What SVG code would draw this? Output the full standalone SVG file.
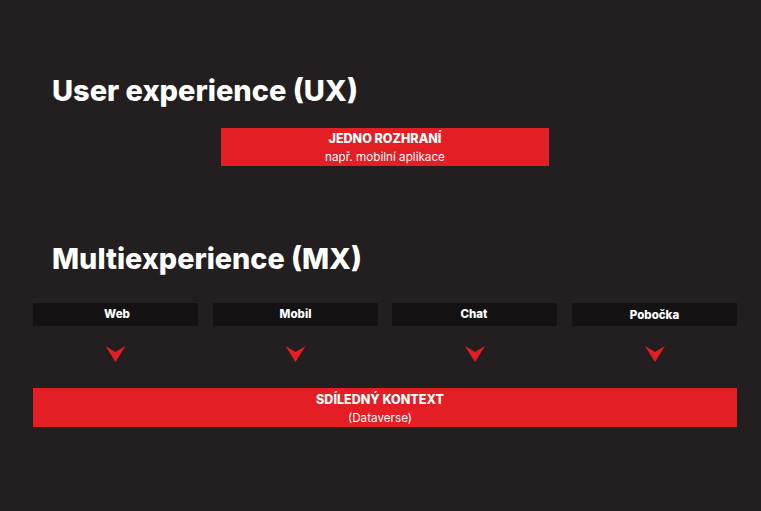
<svg xmlns="http://www.w3.org/2000/svg" width="761" height="511" viewBox="0 0 761 511">
<defs>
<style>
.title{font-family:Inter,"Noto Sans",sans-serif;font-weight:800;font-size:29px;fill:#fff}
.b{font-family:Inter,"Noto Sans",sans-serif;font-weight:800;font-size:12.5px;fill:#fff;text-anchor:middle}
.s{font-family:Inter,"Noto Sans",sans-serif;font-weight:400;font-size:11.7px;fill:#fff;text-anchor:middle}
.ch{font-family:Inter,"Noto Sans",sans-serif;font-weight:800;font-size:11.5px;fill:#fff;text-anchor:middle}
.red{fill:#e31e24}
.dark{fill:#141213}
.arr{fill:#e31e24}
</style>
<path id="chev" d="M-10,0 L0,6 L10,0 L0,16 Z"/>
</defs>
<rect width="761" height="511" fill="#231f20"/>
<text class="title" x="52" y="101" textLength="306" lengthAdjust="spacingAndGlyphs">User experience (UX)</text>
<text class="title" x="52" y="269" textLength="310" lengthAdjust="spacingAndGlyphs">Multiexperience (MX)</text>
<g id="ux">
<rect class="red" x="221" y="128" width="328" height="38"/>
<text class="b" x="385" y="143">JEDNO ROZHRANÍ</text>
<text class="s" x="385" y="161">např. mobilní aplikace</text>
</g>
<g id="web"><rect class="dark" x="33" y="303" width="165" height="23"/><text class="ch" x="117" y="318">Web</text></g>
<g id="mobil"><rect class="dark" x="213" y="303" width="165" height="23"/><text class="ch" x="295.5" y="318">Mobil</text></g>
<g id="chat"><rect class="dark" x="392" y="303" width="165" height="23"/><text class="ch" x="474" y="318">Chat</text></g>
<g id="pobocka"><rect class="dark" x="572" y="303" width="165" height="23"/><text class="ch" x="654.5" y="319">Pobočka</text></g>
<g id="connectors">
<use href="#chev" class="arr" x="115.5" y="346"/>
<use href="#chev" class="arr" x="295.5" y="346"/>
<use href="#chev" class="arr" x="475" y="346"/>
<use href="#chev" class="arr" x="655" y="346"/>
</g>
<g id="kontext">
<rect class="red" x="33" y="388" width="704" height="39"/>
<text class="b" x="380" y="404" font-size="13">SDÍLEDNÝ KONTEXT</text>
<text class="s" x="380" y="422">(Dataverse)</text>
</g>
</svg>
